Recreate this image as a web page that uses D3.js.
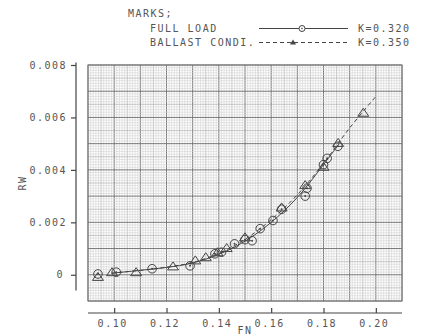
<!DOCTYPE html>
<html>
<head>
<meta charset="utf-8">
<script src="https://cdn.jsdelivr.net/npm/d3@7"></script>
<style>
  body { margin: 0; background: #fff; }
  text { font-family: "DejaVu Sans Mono", monospace; fill: #555; }
</style>
</head>
<body>
<script>
// measured points, full load (circles)
var fullFn = [0.0938, 0.1008, 0.1145, 0.1290, 0.1385, 0.1410, 0.1460, 0.1500, 0.1527, 0.1558, 0.1607, 0.1640, 0.1730, 0.1737, 0.1800, 0.1814, 0.1855];
var fullRw = [0.00003, 0.00010, 0.00023, 0.00034, 0.00080, 0.00086, 0.00118, 0.00134, 0.00130, 0.00176, 0.00207, 0.00250, 0.00300, 0.00330, 0.00420, 0.00444, 0.00490];
// measured points, ballast condition (triangles)
var ballFn = [0.0938, 0.0992, 0.1084, 0.1225, 0.1310, 0.1350, 0.1395, 0.1430, 0.1500, 0.1640, 0.1730, 0.1800, 0.1856, 0.1952];
var ballRw = [-0.00010, 0.00008, 0.00008, 0.00030, 0.00053, 0.00065, 0.00084, 0.00100, 0.00141, 0.00255, 0.00340, 0.00410, 0.00501, 0.00616];
// faired curves
var fullCurveFn = [0.099, 0.110, 0.120, 0.130, 0.140, 0.150, 0.160, 0.170, 0.180, 0.186];
var fullCurveRw = [0.00006, 0.00017, 0.00028, 0.00045, 0.00078, 0.00128, 0.00200, 0.00295, 0.00420, 0.00500];
var ballCurveFn = [0.099, 0.110, 0.120, 0.130, 0.140, 0.150, 0.160, 0.170, 0.180, 0.190, 0.200];
var ballCurveRw = [0.00006, 0.00017, 0.00029, 0.00047, 0.00082, 0.00135, 0.00210, 0.00305, 0.00425, 0.00560, 0.00680];

var xTicks = [0.10, 0.12, 0.14, 0.16, 0.18, 0.20];
var yTicks = [0, 0.002, 0.004, 0.006, 0.008];
var legendNames = ["FULL LOAD", "BALLAST CONDI."];
var legendK = ["K=0.320", "K=0.350"];

var w = 435, h = 335;
var gl = 88, gr = 402, gt = 65, gb = 301;

var x = d3.scaleLinear().domain([0.09, 0.21]).range([gl, gr]);
var y = d3.scaleLinear().domain([-0.001, 0.008]).range([gb, gt]);

var svg = d3.select("body").append("svg")
  .attr("width", w).attr("height", h);

// graph paper
var grid = svg.append("g");
d3.range(0, 121).forEach(function(i) {
  var c = i % 10 == 0 ? "#777" : (i % 5 == 0 ? "#a4a4a4" : "#d2d2d2");
  grid.append("line")
    .attr("x1", x(0.09 + i * 0.001)).attr("x2", x(0.09 + i * 0.001))
    .attr("y1", gt).attr("y2", gb)
    .attr("stroke", c).attr("stroke-width", i % 10 == 0 ? 1 : 0.6);
});
d3.range(0, 91).forEach(function(i) {
  var c = i % 10 == 0 ? "#777" : (i % 5 == 0 ? "#a4a4a4" : "#d2d2d2");
  grid.append("line")
    .attr("y1", y(-0.001 + i * 0.0001)).attr("y2", y(-0.001 + i * 0.0001))
    .attr("x1", gl).attr("x2", gr)
    .attr("stroke", c).attr("stroke-width", i % 10 == 0 ? 1 : 0.6);
});
grid.append("rect")
  .attr("x", gl).attr("y", gt).attr("width", gr - gl).attr("height", gb - gt)
  .attr("fill", "none").attr("stroke", "#777").attr("stroke-width", 1);

// axes
var yAxis = svg.append("g")
  .attr("transform", "translate(76,0)")
  .call(d3.axisLeft(y).tickValues(yTicks).tickSize(5).tickSizeOuter(0)
    .tickFormat(function(d) { return d == 0 ? "0" : d3.format(".3f")(d); }));
yAxis.select(".domain").remove();
yAxis.append("line")
  .attr("x1", 0).attr("x2", 0).attr("y1", y(0.0081)).attr("y2", y(-0.0006))
  .attr("stroke", "#444").attr("stroke-width", 1.2);
yAxis.selectAll(".tick line").attr("stroke", "#444").attr("stroke-width", 1.2);
yAxis.selectAll(".tick text").attr("x", -9)
  .style("font-size", "10px").style("letter-spacing", "1.5px")
  .attr("font-family", null).attr("fill", "#555");
yAxis.selectAll(".tick text").filter(function(d) { return d == 0; }).attr("x", -12);

var xAxis = svg.append("g")
  .attr("transform", "translate(0,313)")
  .call(d3.axisTop(x).tickValues(xTicks).tickSize(5).tickSizeOuter(0)
    .tickFormat(d3.format(".2f")));
xAxis.select(".domain").remove();
xAxis.append("line")
  .attr("x1", gl).attr("x2", gr).attr("y1", 0).attr("y2", 0)
  .attr("stroke", "#444").attr("stroke-width", 1.2);
xAxis.selectAll(".tick line").attr("stroke", "#444").attr("stroke-width", 1.2);
xAxis.selectAll(".tick text").attr("y", 14).attr("dy", 0).attr("dx", -2)
  .style("font-size", "10px").style("letter-spacing", "1.5px")
  .attr("font-family", null).attr("fill", "#555");

svg.append("text").attr("x", 245).attr("y", 334).attr("text-anchor", "middle")
  .style("font-size", "10px").style("letter-spacing", "1.5px").text("FN");
svg.append("text").attr("transform", "translate(26,183) rotate(-90)")
  .attr("text-anchor", "middle")
  .style("font-size", "10px").style("letter-spacing", "1.5px").text("RW");

// curves
var line = d3.line().curve(d3.curveCatmullRom)
  .x(function(d) { return x(d[0]); }).y(function(d) { return y(d[1]); });
svg.append("path")
  .datum(d3.zip(fullCurveFn, fullCurveRw))
  .attr("d", line).attr("fill", "none").attr("stroke", "#444").attr("stroke-width", 1);
svg.append("path")
  .datum(d3.zip(ballCurveFn, ballCurveRw))
  .attr("d", line).attr("fill", "none").attr("stroke", "#444").attr("stroke-width", 1)
  .attr("stroke-dasharray", "4,3");

// markers
var circ = svg.append("g").selectAll("g")
  .data(d3.zip(fullFn, fullRw)).enter().append("g")
  .attr("transform", function(d) { return "translate(" + x(d[0]) + "," + y(d[1]) + ")"; });
circ.append("circle").attr("r", 4.3).attr("fill", "none").attr("stroke", "#444").attr("stroke-width", 1);
circ.append("circle").attr("r", 1).attr("fill", "#444");

svg.append("g").selectAll("path")
  .data(d3.zip(ballFn, ballRw)).enter().append("path")
  .attr("d", "M-5.5,3L5.5,3L0,-5Z")
  .attr("transform", function(d) { return "translate(" + x(d[0]) + "," + y(d[1]) + ")"; })
  .attr("fill", "none").attr("stroke", "#444").attr("stroke-width", 1);

// legend
var leg = svg.append("g").style("font-size", "10px").style("letter-spacing", "1.5px");
leg.append("text").attr("x", 128).attr("y", 17).text("MARKS;");
legendNames.forEach(function(n, i) {
  var ly = 32 + i * 14;
  leg.append("text").attr("x", 150).attr("y", ly).text(n);
  leg.append("text").attr("x", 358).attr("y", ly).text(legendK[i]);
  leg.append("line").attr("x1", 259).attr("x2", 348).attr("y1", ly - 3.5).attr("y2", ly - 3.5)
    .attr("stroke", "#444").attr("stroke-width", 1)
    .attr("stroke-dasharray", i == 1 ? "4,3" : null);
  if (i == 0) {
    leg.append("circle").attr("cx", 302).attr("cy", ly - 3.5).attr("r", 3)
      .attr("fill", "#fff").attr("stroke", "#444");
    leg.append("circle").attr("cx", 302).attr("cy", ly - 3.5).attr("r", 0.8).attr("fill", "#444");
  } else {
    leg.append("path").attr("d", "M-3,2L3,2L0,-3Z")
      .attr("transform", "translate(293," + (ly - 3.5) + ")").attr("fill", "#444");
  }
});
</script>
</body>
</html>
